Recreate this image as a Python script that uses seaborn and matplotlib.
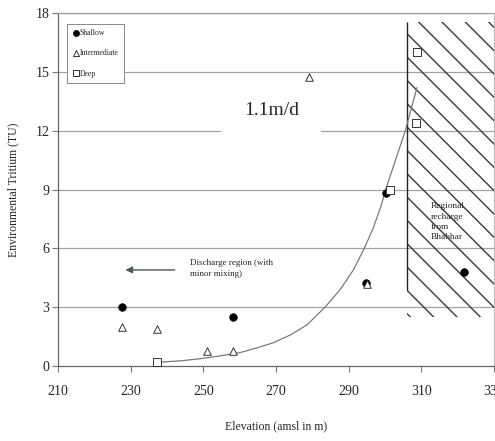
import matplotlib
matplotlib.use("Agg")
import matplotlib.pyplot as plt
import pandas as pd
import seaborn as sns

# Elevation (m amsl) and environmental tritium (TU) for each depth class
shallow_elev = [227.5, 258.3, 294.8, 300.3, 321.8]
shallow_trit = [3.0, 2.5, 4.25, 8.8, 4.8]

inter_elev = [227.5, 237.2, 251.0, 258.1, 279.0, 295.1]
inter_trit = [2.0, 1.9, 0.75, 0.75, 14.75, 4.2]

deep_elev = [237.2, 301.5, 308.8, 308.6]
deep_trit = [0.2, 9.0, 16.0, 12.4]

# Model curve for a flow velocity of 1.1 m/d
curve_elev = [238.5, 244.0, 249.0, 254.0, 260.0, 264.7, 269.3, 273.9, 278.5, 283.5,
              287.6, 291.3, 294.3, 296.8, 298.8, 300.2, 302.0, 303.8, 305.6, 308.8]
curve_trit = [0.2, 0.27, 0.37, 0.5, 0.68, 0.92, 1.19, 1.58, 2.09, 3.0,
              3.88, 4.9, 6.0, 7.05, 8.1, 9.0, 10.0, 11.0, 12.0, 14.2]

x_ticks = [210, 230, 250, 270, 290, 310, 330]
x_tick_labels = ["210", "230", "250", "270", "290", "310", "330"]
y_ticks = [0, 3, 6, 9, 12, 15, 18]

# Regional recharge zone (Bhabhar)
recharge_elev = [306.1, 330.0]
recharge_trit_low, recharge_trit_high = 2.5, 17.55

DPI = 140
S = 100 / DPI  # point sizes are given at 100 dpi and scaled here

sns.set_style("white")
plt.rcParams["font.family"] = ["Liberation Serif", "DejaVu Serif"]
plt.rcParams["hatch.linewidth"] = 1.0 * S

fig = plt.figure(figsize=(495 / DPI, 441 / DPI), dpi=DPI)
ax = fig.add_axes([0.117, 0.170, 0.881, 0.8005])

grid_c = "#a3a3a3"
for y in y_ticks[1:]:
    ax.axhline(y, color=grid_c, lw=0.9 * S, zorder=0)

# hatched recharge region and its boundary
ax.fill_between(recharge_elev, recharge_trit_low, recharge_trit_high,
                facecolor="none", edgecolor="#3a3a3a", hatch="\\\\", linewidth=0, zorder=1)
ax.vlines(recharge_elev[0], 3.9, recharge_trit_high, color="#222222", lw=1.0 * S, zorder=2)

curve = pd.DataFrame({"elev": curve_elev, "trit": curve_trit})
sns.lineplot(data=curve, x="elev", y="trit", ax=ax, color="#7a7a7a", lw=0.9 * S,
             sort=False, estimator=None, zorder=3)

shallow = pd.DataFrame({"elev": shallow_elev, "trit": shallow_trit})
inter = pd.DataFrame({"elev": inter_elev, "trit": inter_trit})
deep = pd.DataFrame({"elev": deep_elev, "trit": deep_trit})

sns.scatterplot(data=shallow, x="elev", y="trit", ax=ax, marker="o", s=30 * S * S,
                color="black", edgecolor="black", linewidth=0.5 * S, label="Shallow", zorder=5)
sns.scatterplot(data=inter, x="elev", y="trit", ax=ax, marker="^", s=30 * S * S,
                facecolor="white", edgecolor="#333333", linewidth=0.7 * S,
                label="Intermediate", zorder=5)
sns.scatterplot(data=deep, x="elev", y="trit", ax=ax, marker="s", s=28 * S * S,
                facecolor="white", edgecolor="#333333", linewidth=0.7 * S,
                label="Deep", zorder=5)

ax.text(268.7, 13.05, "1.1m/d", fontsize=14 * S, ha="center", va="center", zorder=4,
        bbox=dict(boxstyle="square,pad=1.15", facecolor="white", edgecolor="none"))

ax.annotate("", xy=(227.5, 4.9), xytext=(243.2, 4.9),
            arrowprops=dict(arrowstyle="-|>", color="#4a5a58", lw=1.0 * S,
                            mutation_scale=10 * S), zorder=4)
ax.text(246.4, 5.45, "Discharge region (with\nminor mixing)", fontsize=6.5 * S,
        ha="left", va="top", linespacing=1.5, zorder=4)
ax.text(312.7, 8.35, "Regional\nrecharge\nfrom\nBhabhar", fontsize=6.8 * S,
        ha="left", va="top", linespacing=1.4, zorder=4)

ax.set_xlim(210, 330)
ax.set_ylim(0, 18)
ax.set_xticks(x_ticks)
ax.set_xticklabels(x_tick_labels)
ax.set_yticks(y_ticks)
ax.tick_params(axis="both", labelsize=10 * S, length=4 * S, width=0.8 * S, color="#777777",
               direction="out", left=True, bottom=True)
ax.tick_params(axis="x", pad=10 * S)
ax.tick_params(axis="y", pad=2 * S)

ax.set_xlabel("Elevation (amsl in m)", fontsize=8.5 * S)
ax.set_ylabel("Environmental Tritium (TU)", fontsize=8.5 * S)
ax.xaxis.set_label_coords(0.5, -0.155)
ax.yaxis.set_label_coords(-0.088, 0.5)

for side in ["left", "bottom"]:
    ax.spines[side].set_color("#666666")
    ax.spines[side].set_linewidth(0.9 * S)
ax.spines["top"].set_color(grid_c)
ax.spines["top"].set_linewidth(0.9 * S)
ax.spines["right"].set_color("#bbbbbb")
ax.spines["right"].set_linewidth(0.8 * S)

leg = ax.legend(loc="upper left", bbox_to_anchor=(0.021, 0.969), fontsize=5.6 * S,
                frameon=True, fancybox=False, edgecolor="#888888", framealpha=1,
                handletextpad=0.1, handlelength=0.8, labelspacing=1.55,
                borderpad=0.7, borderaxespad=0, markerscale=0.8)
leg.get_frame().set_linewidth(0.7 * S)

fig.savefig("out.png", dpi=DPI, facecolor="white")
